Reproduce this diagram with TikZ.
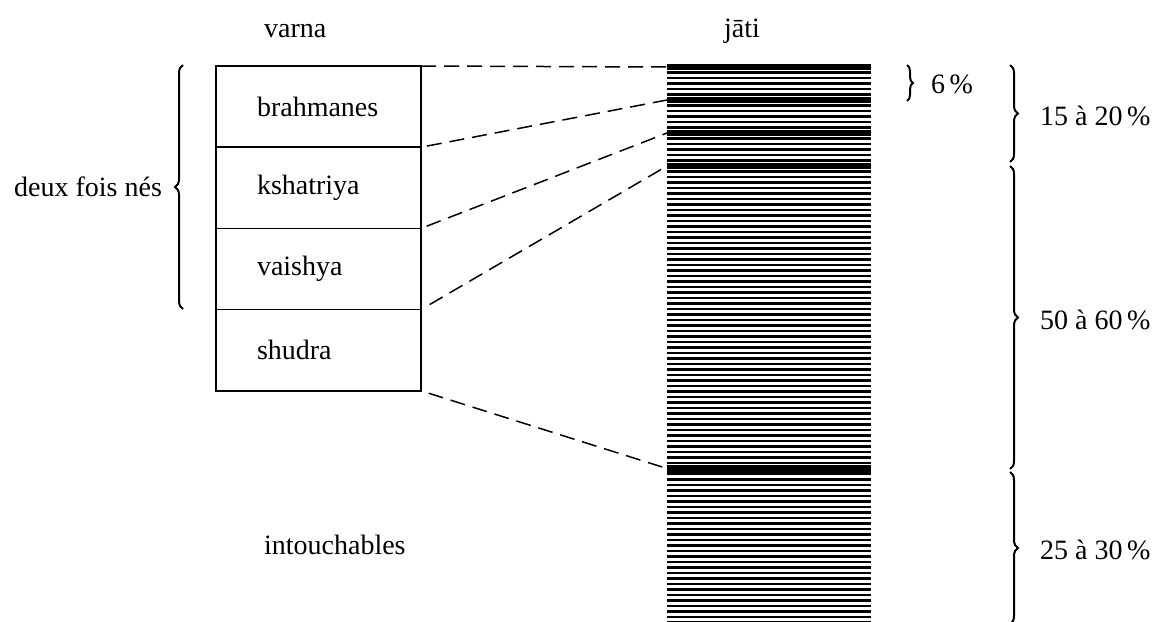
\documentclass[tikz,border=0pt]{standalone}
\usepackage{fontspec}
\setmainfont{Liberation Serif}
\usetikzlibrary{positioning,decorations.pathreplacing}

\begin{document}
\begin{tikzpicture}[x=0.5pt,y=-0.5pt,
	every node/.append style={font=\fontsize{14}{16}\selectfont},
	cell/.style={draw,line width=0.8pt,minimum width=102.5pt,minimum height=40.6pt,text width=61.5pt,inner xsep=20.5pt,inner ysep=0pt,align=left,outer sep=0pt},
	link/.style={dash pattern=on 7.5pt off 4pt,line width=0.75pt},
	stripe/.style={line width=1.3pt},
	curly/.style={decorate,decoration={brace,amplitude=4pt},line width=1pt}]
			
			\useasboundingbox (0,0) rectangle (1160,621);
			
			\node[anchor=west] (varna) at (257,31) {varna};
			\node (jati) at (742,31) {jāti};
			
			% varna
			\node[cell,anchor=north west] (brahmanes) at (216,66) {brahmanes};
			\node[cell,below=0pt of brahmanes] (kshatriya) {kshatriya};
			\node[cell,below=0pt of kshatriya] (vaishya) {vaishya};
			\node[cell,below=0pt of vaishya] (shudra) {shudra};
			\node[anchor=west] (intouchables) at (257,545) {intouchables};
			
			% jati
			\foreach \i in {0,...,101}
				\draw[stripe] (667,67+5.5*\i) -- (871,67+5.5*\i);
			\foreach \i/\w in {0/2.6pt,6/2.6pt,12/2.6pt,18/2.8pt,73/4pt}{
				\coordinate (j\i) at (667,67+5.5*\i);
				\draw[line width=\w] (j\i) -- ++(204,0);
			}
			
			\draw[link] (brahmanes.north east) -- (j0);
			\draw[link,shorten <=3pt] (brahmanes.south east) -- (j6);
			\draw[link,shorten <=3pt] (kshatriya.south east) -- (j12);
			\draw[link,shorten <=5pt] (vaishya.south east) -- (j18);
			\draw[link,shorten <=4pt] (shudra.south east) -- (j73);
			
			% braces
			\draw[curly] (183,309) -- (183,65);
			\node[anchor=east] (twice) at (169,187) {deux fois nés};
			
			\draw[curly,decoration={amplitude=3pt}] (907,65) -- (907,101);
			\node[anchor=west] (six) at (924,84) {6\,\%};
			
			\draw[curly] (1010,65) -- (1010,162);
			\node[anchor=west] (upper) at (1033,116) {15 à 20\,\%};
			\draw[curly] (1010,166) -- (1010,469);
			\node[anchor=west] (middle) at (1033,320) {50 à 60\,\%};
			\draw[curly] (1010,472) -- (1010,624);
			\node[anchor=west] (lower) at (1033,550) {25 à 30\,\%};
			
		\end{tikzpicture}
\end{document}
